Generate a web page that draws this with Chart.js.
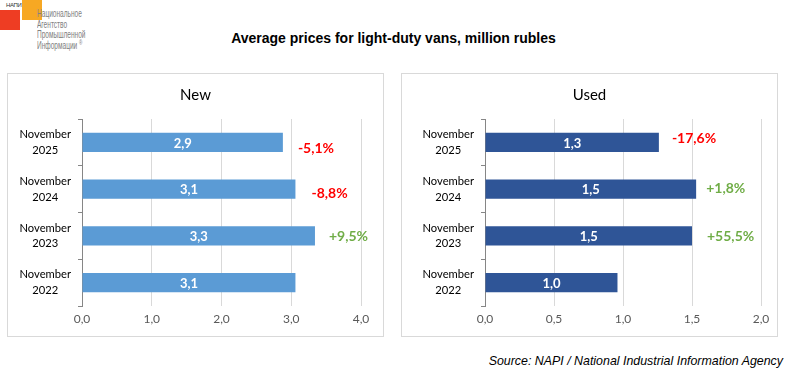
<!DOCTYPE html>
<html>
<head>
<meta charset="utf-8">
<script src="https://cdn.jsdelivr.net/npm/chart.js@4.4.1/dist/chart.umd.min.js"></script>
<style>
    body { margin: 0; background: #fff; width: 787px; height: 372px; position: relative; overflow: hidden; font-family: "Liberation Sans", Arial, sans-serif; }
    .logo-red { position: absolute; left: 0; top: 10px; width: 20px; height: 20px; background: #ee3d23; }
    .logo-orange { position: absolute; left: 22px; top: 0; width: 20px; height: 20px; background: #f7a823; }
    .logo-small { position: absolute; left: 6px; top: 2px; font-size: 6px; color: #333; letter-spacing: -0.4px; }
    .logo-text { position: absolute; left: 37px; top: 8px; font-family: "Liberation Sans", sans-serif; font-size: 11.5px; line-height: 10.6px; color: #808080; transform: scaleX(0.57); transform-origin: left top; white-space: nowrap; }
    .logo-text sup { font-size: 8px; line-height: 0; vertical-align: 4px; }
    #title { position: absolute; left: 0; width: 787px; top: 30px; text-align: center; font-weight: bold; font-size: 14px; color: #000; }
    .panel { position: absolute; top: 73px; width: 375px; height: 262px; border: 1px solid #d9d9d9; }
    .panel-title { position: absolute; left: 0; right: 0; top: 11px; text-align: center; font-family: Lato, "Noto Sans", sans-serif; font-size: 15px; color: #000; }
    .panel canvas { position: absolute; left: 0; top: 0; }
    #source { position: absolute; right: 4px; top: 354px; font-style: italic; font-size: 12.4px; color: #000; }
</style>
</head>
<body>
<div class="logo-red"></div>
<div class="logo-orange"></div>
<div class="logo-small">НАПИ</div>
<div class="logo-text">Национальное<br>Агентство<br>Промышленной<br>Информации <sup>®</sup></div>
<div id="title">Average prices for light-duty vans, million rubles</div>

<div class="panel" id="panel-new" style="left: 7px;">
    <canvas id="newChart" width="375" height="262"></canvas>
    <div class="panel-title">New</div>
</div>
<div class="panel" id="panel-used" style="left: 401px;">
    <canvas id="usedChart" width="375" height="262"></canvas>
    <div class="panel-title">Used</div>
</div>
<div id="source">Source: NAPI / National Industrial Information Agency</div>

<script>
// Data
const categories = [['November', '2025'], ['November', '2024'], ['November', '2023'], ['November', '2022']];

const newPrices = [2.88, 3.06, 3.34, 3.06];
const newChanges = ['-5,1%', '-8,8%', '+9,5%', ''];

const usedPrices = [1.26, 1.53, 1.50, 0.96];
const usedChanges = ['-17,6%', '+1,8%', '+55,5%', ''];

const newTicks = [0, 1, 2, 3, 4];
const usedTicks = [0, 0.5, 1, 1.5, 2];

// label nudges (px) for the change labels, as placed in the original
const newNudges = [[15, 5], [16, 3], [14, 0], [0, 0]];
const usedNudges = [[13, -5], [10, -2], [15, 0], [0, 0]];

const RED = '#ff0000';
const GREEN = '#70ad47';

function fmt(v) {
    return v.toFixed(1).replace('.', ',');
}

// Draws value inside the bar and the change label after it
const barLabels = {
    id: 'barLabels',
    afterDatasetsDraw(chart, args, opts) {
        const ctx = chart.ctx;
        const meta = chart.getDatasetMeta(0);
        const values = chart.data.datasets[0].data;
        ctx.save();
        meta.data.forEach((bar, i) => {
            // value
            ctx.font = 'bold 13px Lato, "Noto Sans", sans-serif';
            ctx.fillStyle = '#ffffff';
            ctx.textAlign = 'center';
            ctx.textBaseline = 'middle';
            ctx.fillText(fmt(values[i]), (bar.x + bar.base) / 2, bar.y + 1);

            // change
            const txt = opts.changes[i];
            if (!txt) return;
            const nudge = opts.nudges[i];
            ctx.font = 'bold 14px Lato, "Noto Sans", sans-serif';
            ctx.fillStyle = txt.startsWith('-') ? RED : GREEN;
            ctx.textAlign = 'left';
            ctx.fillText(txt, bar.x + nudge[0], bar.y + nudge[1] + 1);
        });
        ctx.restore();
    }
};

function makeChart(id, values, ticks, changes, nudges, color, yWidth, padRight) {
    const ctx = document.getElementById(id).getContext('2d');
    return new Chart(ctx, {
        type: 'bar',
        data: {
            labels: categories,
            datasets: [{
                data: values,
                backgroundColor: color,
                barPercentage: 0.41,
                categoryPercentage: 1
            }]
        },
        options: {
            indexAxis: 'y',
            responsive: false,
            animation: false,
            layout: { padding: { top: 45, right: padRight, bottom: 0, left: 0 } },
            plugins: {
                legend: { display: false },
                tooltip: { enabled: false },
                barLabels: { changes: changes, nudges: nudges }
            },
            scales: {
                x: {
                    min: ticks[0],
                    max: ticks[ticks.length - 1],
                    afterBuildTicks: (scale) => { scale.ticks = ticks.map(v => ({ value: v })); },
                    afterFit: (scale) => { scale.height = 30; },
                    ticks: {
                        color: '#595959',
                        font: { size: 12, family: 'Lato, "Noto Sans", sans-serif' },
                        padding: 6,
                        callback: (v) => fmt(v)
                    },
                    grid: { color: '#d9d9d9', drawTicks: false },
                    border: { display: false }
                },
                y: {
                    afterFit: (scale) => { scale.width = yWidth; },
                    ticks: {
                        color: '#000000',
                        font: { size: 11.2, family: 'Lato, "Noto Sans", sans-serif', lineHeight: 1.4 },
                        crossAlign: 'center',
                        padding: 7
                    },
                    grid: { drawOnChartArea: false, color: '#868686', tickLength: 4 },
                    border: { display: true, color: '#868686', width: 1 }
                }
            }
        },
        plugins: [barLabels]
    });
}

makeChart('newChart', newPrices, newTicks, newChanges, newNudges, '#5b9bd5', 74, 22);
makeChart('usedChart', usedPrices, usedTicks, usedChanges, usedNudges, '#2f5597', 83, 16);
</script>
</body>
</html>
